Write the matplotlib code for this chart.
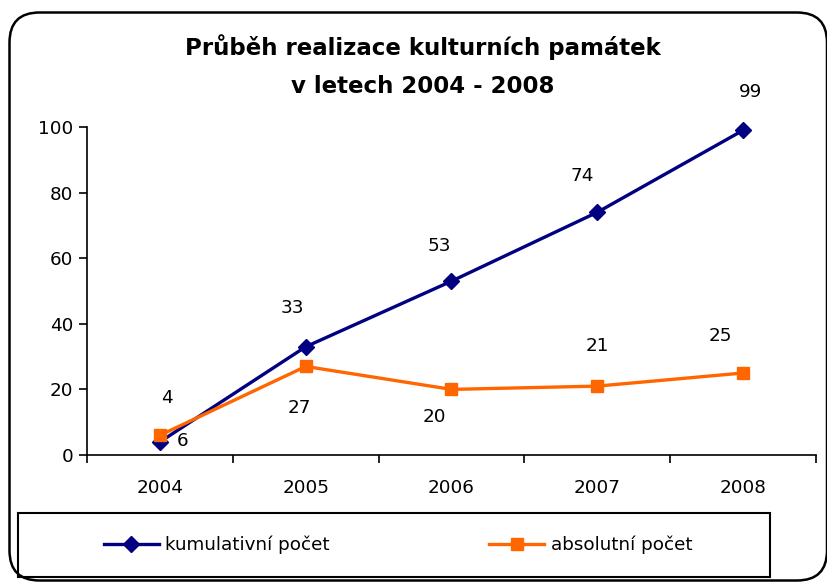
import numpy as np
import matplotlib
matplotlib.use("Agg")
import matplotlib.pyplot as plt
from matplotlib.patches import FancyBboxPatch, Rectangle

years = ["2004", "2005", "2006", "2007", "2008"]
kumulativni = [4, 33, 53, 74, 99]
absolutni = [6, 27, 20, 21, 25]

# label offsets in pixels (dx, dy), screen y up
off_kum = [(7, 44), (-13, 39), (-12, 35), (-15, 36), (7, 38)]
off_abs = [(23, -6), (-6, -42), (-17, -28), (0, 40), (-23, 37)]

navy = "#000080"
orange = "#FF6600"

plt.rcParams['font.family'] = ['DejaVu Sans']
fs = 13.2

fig = plt.figure(figsize=(8.28, 5.84), dpi=100)

# rounded outer frame
frame = FancyBboxPatch((0.095, 0.035), 8.175, 5.68,
                       boxstyle="round,pad=0,rounding_size=0.3",
                       transform=fig.dpi_scale_trans, fill=False,
                       edgecolor="black", linewidth=1.8)
fig.patches.append(frame)

ax = fig.add_axes([87/828, 129/584, 729/828, 328/584])
x = np.arange(len(years))
ax.plot(x, kumulativni, color=navy, lw=2.4, marker="D", ms=8.5,
        label="kumulativní počet", clip_on=False, zorder=3)
ax.plot(x, absolutni, color=orange, lw=2.4, marker="s", ms=8.5,
        label="absolutní počet", clip_on=False, zorder=4)

for i in range(len(years)):
    ax.annotate(str(kumulativni[i]), (x[i], kumulativni[i]), xytext=off_kum[i],
                textcoords="offset pixels", ha="center", va="center", fontsize=fs)
    ax.annotate(str(absolutni[i]), (x[i], absolutni[i]), xytext=off_abs[i],
                textcoords="offset pixels", ha="center", va="center", fontsize=fs)

ax.set_xlim(-0.5, len(years) - 0.5)
ax.set_ylim(0, 100)
ax.set_yticks([0, 20, 40, 60, 80, 100])
ax.set_xticks(x)
ax.set_xticklabels(years)
ax.set_xticks(np.arange(-0.5, len(years)), minor=True)
ax.tick_params(axis="x", which="major", length=0, pad=17, labelsize=fs)
ax.tick_params(axis="x", which="minor", length=6, width=1.2, direction="out")
ax.tick_params(axis="y", length=6, width=1.2, pad=4, labelsize=fs)
for s in ["top", "right"]:
    ax.spines[s].set_visible(False)
for s in ["left", "bottom"]:
    ax.spines[s].set_linewidth(1.2)

fig.text(423/828, 1 - 66/584, "Průběh realizace kulturních památek\nv letech 2004 - 2008",
         ha="center", va="center", fontsize=16.5, fontweight="bold", linespacing=1.85)

# legend box
fig.patches.append(Rectangle((18/828, 7/584), 752/828, 64/584, transform=fig.transFigure,
                             fill=False, edgecolor="black", linewidth=1.5))
fig.legend(loc="center", bbox_to_anchor=(398/828, 39/584), ncol=2, frameon=False,
           fontsize=fs, handlelength=3.0, handletextpad=0.35, columnspacing=8.7)

fig.savefig("out.png", dpi=100)
